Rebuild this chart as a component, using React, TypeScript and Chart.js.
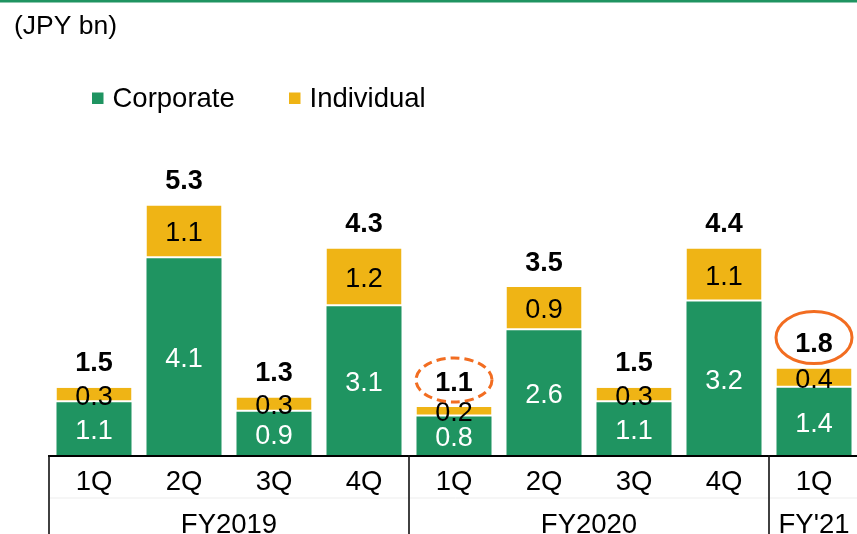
import React, { useEffect, useRef } from "react";
import { Chart, registerables } from "chart.js";

Chart.register(...registerables);

const categories = ["1Q", "2Q", "3Q", "4Q", "1Q", "2Q", "3Q", "4Q", "1Q"];
const groups = ["FY2019", "FY2020", "FY'21"];
const groupSizes = [4, 4, 1];
const corporate = [1.1, 4.1, 0.9, 3.1, 0.8, 2.6, 1.1, 3.2, 1.4];
const individual = [0.3, 1.1, 0.3, 1.2, 0.2, 0.9, 0.3, 1.1, 0.4];
const totals = [1.5, 5.3, 1.3, 4.3, 1.1, 3.5, 1.5, 4.4, 1.8];
const seriesNames = ["Corporate", "Individual"];
const unitLabel = "(JPY bn)";
const dashedHighlight = 4;
const solidHighlight = 8;

const GREEN = "#1f9461";
const YELLOW = "#efb415";
const ORANGE = "#f26d21";
const FONT = "'Liberation Sans', Arial, sans-serif";

export default function App() {
  const ref = useRef<HTMLCanvasElement | null>(null);

  useEffect(() => {
    if (!ref.current) return;
    const fmt = (v: number) => v.toFixed(1);
    const digitText = (ctx: CanvasRenderingContext2D, t: string, x: number, cy: number, size: number) => {
      ctx.fillText(t, x, cy + size * 0.358);
    };
    const plugin = {
      id: "custom",
      afterDraw(chart: any) {
        const ctx: CanvasRenderingContext2D = chart.ctx;
        const area = chart.chartArea;
        const W = chart.width;
        const H = chart.height;
        const xs = chart.scales.x;
        ctx.save();
        // top line
        ctx.fillStyle = GREEN;
        ctx.fillRect(0, 0, W, 2.5);
        // unit label
        ctx.fillStyle = "#000";
        ctx.textAlign = "left";
        ctx.textBaseline = "alphabetic";
        ctx.font = `26.5px ${FONT}`;
        ctx.fillText(unitLabel, 14, 34);
        // legend
        ctx.font = `27.5px ${FONT}`;
        const legendX = [92, 289];
        [GREEN, YELLOW].forEach((c, i) => {
          ctx.fillStyle = c;
          ctx.fillRect(legendX[i], 92.5, 11.5, 11.5);
          ctx.fillStyle = "#000";
          ctx.fillText(seriesNames[i], legendX[i] + 20.5, 97.5 + 27.5 * 0.358);
        });
        // data labels
        const m0 = chart.getDatasetMeta(0);
        const m1 = chart.getDatasetMeta(1);
        ctx.textAlign = "center";
        for (let i = 0; i < categories.length; i++) {
          const b0 = m0.data[i];
          const b1 = m1.data[i];
          ctx.font = `27px ${FONT}`;
          ctx.fillStyle = "#fff";
          digitText(ctx, fmt(corporate[i]), b0.x, (b0.y + b0.base) / 2 + 1, 27);
          ctx.fillStyle = "#000";
          digitText(ctx, fmt(individual[i]), b1.x, (b1.y + b1.base) / 2, 27);
          ctx.font = `bold 27px ${FONT}`;
          const ly = b1.y - 26;
          digitText(ctx, fmt(totals[i]), b1.x, ly, 27);
          if (i === dashedHighlight || i === solidHighlight) {
            ctx.strokeStyle = ORANGE;
            ctx.lineWidth = 3;
            ctx.beginPath();
            if (i === dashedHighlight) {
              ctx.setLineDash([9, 5]);
              ctx.ellipse(b1.x, ly - 1, 38, 22, 0, 0, Math.PI * 2);
            } else {
              ctx.setLineDash([]);
              ctx.ellipse(b1.x, ly - 5, 38, 26, 0, 0, Math.PI * 2);
            }
            ctx.stroke();
            ctx.setLineDash([]);
          }
        }
        // axis
        const cw = (area.right - area.left) / categories.length;
        ctx.strokeStyle = "rgba(0,0,0,0.07)";
        ctx.lineWidth = 1;
        ctx.beginPath();
        ctx.moveTo(area.left, 498);
        ctx.lineTo(W, 498);
        ctx.stroke();
        ctx.strokeStyle = "#000";
        ctx.lineWidth = 2;
        ctx.beginPath();
        ctx.moveTo(area.left - 1, area.bottom + 1);
        ctx.lineTo(W, area.bottom + 1);
        ctx.stroke();
        ctx.lineWidth = 1.6;
        ctx.strokeStyle = "#111";
        let idx = 0;
        const bounds: number[] = [area.left];
        groupSizes.forEach((n) => {
          idx += n;
          bounds.push(area.left + idx * cw);
        });
        bounds.forEach((bx) => {
          ctx.beginPath();
          ctx.moveTo(bx, area.bottom);
          ctx.lineTo(bx, H);
          ctx.stroke();
        });
        ctx.fillStyle = "#000";
        ctx.font = `27.5px ${FONT}`;
        categories.forEach((c, i) => {
          digitText(ctx, c, xs.getPixelForValue(i), 480.5, 27.5);
        });
        groups.forEach((g, gi) => {
          const cx = (bounds[gi] + bounds[gi + 1]) / 2;
          digitText(ctx, g, cx, 523.5, 27.5);
        });
        ctx.restore();
      },
    };

    const chart = new Chart(ref.current, {
      type: "bar",
      data: {
        labels: categories,
        datasets: [
          {
            label: seriesNames[0],
            data: corporate,
            backgroundColor: GREEN,
            borderWidth: 0,
            categoryPercentage: 1,
            barPercentage: 75 / 90,
          },
          {
            label: seriesNames[1],
            data: individual,
            backgroundColor: YELLOW,
            borderColor: "#fff",
            borderWidth: { top: 0, left: 0, right: 0, bottom: 2 },
            borderSkipped: false,
            categoryPercentage: 1,
            barPercentage: 75 / 90,
          },
        ],
      },
      options: {
        responsive: false,
        animation: false,
        devicePixelRatio: 1,
        layout: { padding: { left: 49, right: 3, top: 167, bottom: 79 } },
        plugins: { legend: { display: false }, tooltip: { enabled: false } },
        scales: {
          x: { display: false, stacked: true },
          y: { display: false, stacked: true, min: 0, max: 6 },
        },
      },
      plugins: [plugin],
    } as any);
    return () => chart.destroy();
  }, []);

  return (
    <div style={{ position: "fixed", left: 0, top: 0, width: 857, height: 534, overflow: "hidden", background: "#fff" }}>
      <canvas ref={ref} width={862} height={534} style={{ display: "block", width: 862, height: 534 }} />
    </div>
  );
}
